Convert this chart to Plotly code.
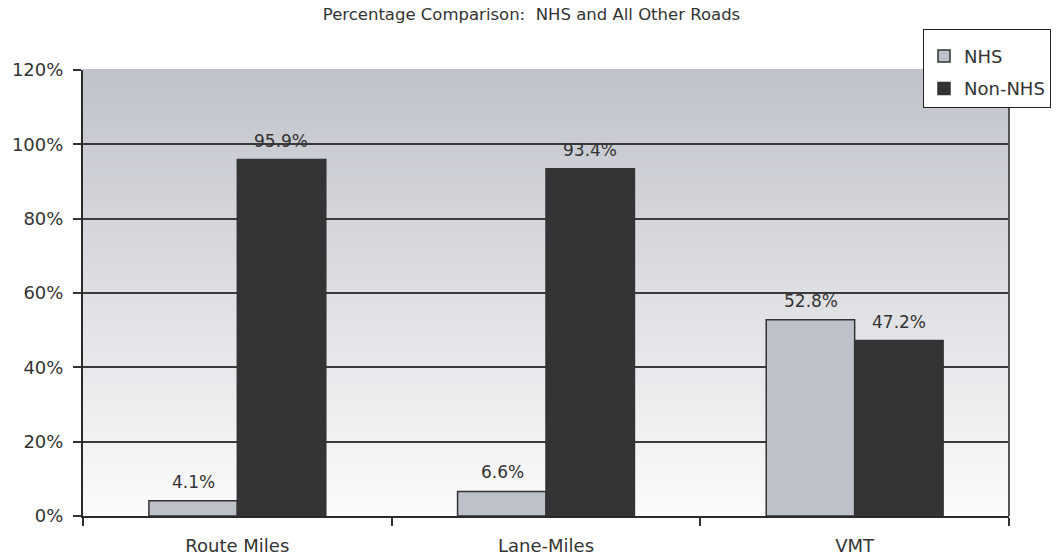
import plotly.graph_objects as go

categories = ["Route Miles", "Lane-Miles", "VMT"]
nhs = [4.1, 6.6, 52.8]
non_nhs = [95.9, 93.4, 47.2]
y_ticks = [0, 20, 40, 60, 80, 100, 120]
y_tick_labels = ["0%", "20%", "40%", "60%", "80%", "100%", "120%"]

FONT = "DejaVu Sans"
TXT = "#333333"

fig = go.Figure()
fig.add_trace(go.Bar(
    name="NHS", x=categories, y=nhs, legendgroup="a",
    marker=dict(color="#bcc1ca", line=dict(color="#333333", width=1.5)),
))
fig.add_trace(go.Bar(
    name="Non-NHS", x=categories, y=non_nhs, legendgroup="b",
    marker=dict(color="#333436", line=dict(color="#333333", width=1.5)),
))

# gradient background bands
shapes = []
n = 223
top = (192, 195, 203)
bot = (251, 251, 251)
for i in range(n):
    t = i / (n - 1)
    c = tuple(round(bot[k] + (top[k] - bot[k]) * t) for k in range(3))
    shapes.append(dict(
        type="rect", xref="x domain", yref="y domain",
        x0=0, x1=1, y0=i / n, y1=(i + 1.5) / n,
        fillcolor="rgb(%d,%d,%d)" % c, line=dict(width=0), layer="below",
    ))

annotations = []
for series, shift in ((nhs, -44), (non_nhs, 44)):
    for cat, v in zip(categories, series):
        annotations.append(dict(
            x=cat, y=v, xref="x", yref="y", text=f"{v:.1f}%",
            showarrow=False, xshift=shift, yanchor="bottom", yshift=7,
            font=dict(family=FONT, size=17, color=TXT),
        ))

fig.update_layout(
    width=1063, height=560,
    margin=dict(l=83, r=54, t=70, b=44),
    paper_bgcolor="white", plot_bgcolor="white",
    barmode="group", bargap=0.427, bargroupgap=0,
    font=dict(family=FONT, color=TXT),
    title=dict(text="Percentage Comparison:  NHS and All Other Roads",
               x=0.5, xanchor="center", y=0.975, yanchor="middle",
               font=dict(family=FONT, size=16.5, color=TXT)),
    shapes=shapes,
    annotations=annotations,
    showlegend=True,
    legend=dict(
        x=(923 - 83) / 926, y=(516 - 29) / 446, xanchor="left", yanchor="top",
        bgcolor="white", bordercolor="#222222", borderwidth=1,
        font=dict(family=FONT, size=18, color=TXT),
        title=dict(text="&nbsp;", font=dict(size=6)),
        traceorder="grouped", tracegroupgap=6,
    ),
    xaxis=dict(
        type="category", tickson="boundaries", ticks="outside", ticklen=8,
        tickwidth=2, tickcolor="#333333", showline=True, linecolor="#2a2a2a",
        linewidth=2, showgrid=False, mirror=False, automargin=False,
        tickfont=dict(family=FONT, size=18, color=TXT), ticklabelstandoff=12,
    ),
    yaxis=dict(
        range=[0, 120], tickvals=y_ticks, ticktext=y_tick_labels,
        ticks="outside", ticklen=8, tickwidth=2, tickcolor="#333333",
        showline=True, linecolor="#2a2a2a", linewidth=2, automargin=False,
        showgrid=True, gridcolor="#3a3a3a", gridwidth=1.5,
        zeroline=False,
        tickfont=dict(family=FONT, size=18, color=TXT), ticklabelstandoff=6,
    ),
)
fig.add_shape(type="line", xref="x domain", yref="y domain", x0=1, x1=1, y0=0, y1=1,
              line=dict(color="#555555", width=2))

fig.write_html("out.html")
